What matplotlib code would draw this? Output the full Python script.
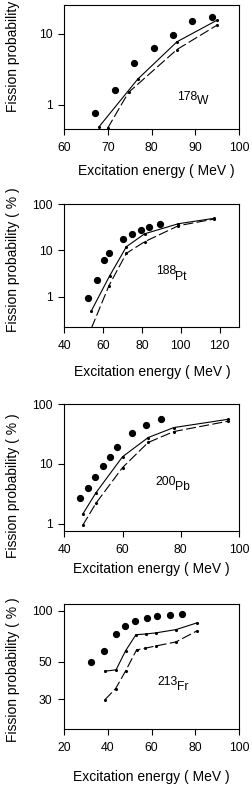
import matplotlib
matplotlib.use('Agg')
import matplotlib.pyplot as plt
import numpy as np

plt.rcParams['font.family'] = ['Liberation Sans', 'DejaVu Sans']

W, H = 253, 788

# 178W
w_dot_x = [67.1, 71.5, 76.0, 80.5, 84.9, 89.3, 93.8]
w_dot_y = [0.78, 1.61, 3.85, 6.4, 9.7, 14.9, 17.0]
w_sol_x = [67.9, 76.8, 85.8, 95.0]
w_sol_y = [0.49, 2.3, 7.7, 15.5]
w_das_x = [69.9, 74.7, 85.8, 95.0]
w_das_y = [0.47, 1.5, 6.0, 13.2]

# 188Pt
pt_dot_x = [52.3, 56.8, 60.5, 63.1, 70.4, 74.9, 79.3, 83.8, 89.1]
pt_dot_y = [0.95, 2.26, 6.1, 8.7, 17.9, 23.0, 28.0, 32.6, 37.0]
pt_sol_x = [54.0, 63.3, 72.0, 81.4, 98.8, 117.3]
pt_sol_y = [0.50, 2.8, 12.1, 23.0, 38.0, 49.8]
pt_das_x = [54.0, 63.0, 72.0, 81.4, 98.8, 117.3]
pt_das_y = [0.21, 1.73, 8.7, 15.5, 34.4, 48.0]

# 200Pb
pb_dot_x = [45.5, 48.0, 50.6, 53.2, 55.7, 58.2, 63.1, 68.0, 73.2]
pb_dot_y = [2.7, 3.9, 6.1, 9.3, 12.9, 18.9, 33.2, 45.7, 56.0]
pb_sol_x = [46.3, 50.9, 60.0, 68.8, 77.6, 96.2]
pb_sol_y = [1.43, 3.3, 13.2, 27.7, 40.7, 56.0]
pb_das_x = [46.3, 50.9, 60.0, 68.8, 77.6, 96.2]
pb_das_y = [0.93, 2.2, 8.7, 22.9, 34.9, 52.0]

# 213Fr
fr_dot_x = [32.2, 38.3, 43.8, 47.8, 52.4, 57.7, 62.4, 68.5, 73.9]
fr_dot_y = [50.0, 58.0, 73.1, 81.9, 87.3, 90.5, 93.0, 94.7, 95.6]
fr_sol_x = [38.6, 43.7, 48.1, 52.8, 57.2, 61.8, 71.1, 80.7]
fr_sol_y = [44.1, 44.9, 58.3, 72.4, 73.1, 74.2, 77.6, 85.0]
fr_das_x = [38.6, 43.5, 48.1, 53.1, 56.9, 61.8, 71.1, 80.7]
fr_das_y = [29.9, 34.8, 44.3, 58.9, 60.2, 62.1, 65.6, 76.2]

panels = [
    dict(top=4.7, bot=128.7, xlim=(60, 100), xt=[60, 70, 80, 90, 100],
         ylim=(0.465, 25.5), yt=[1, 10], ytl=['1', '10'],
         dots=(w_dot_x, w_dot_y), sol=(w_sol_x, w_sol_y), das=(w_das_x, w_das_y),
         num='178', el='W', num_px=(176.7, 100), el_px=(197, 104),
         ylab_px=40, xlab_px=(156, 171)),
    dict(top=204.3, bot=326.7, xlim=(40, 130), xt=[40, 60, 80, 100, 120],
         ylim=(0.224, 100), yt=[1, 10, 100], ytl=['1', '10', '100'],
         dots=(pt_dot_x, pt_dot_y), sol=(pt_sol_x, pt_sol_y), das=(pt_das_x, pt_das_y),
         num='188', el='Pt', num_px=(156, 274), el_px=(175.5, 280),
         ylab_px=260, xlab_px=(152.5, 372)),
    dict(top=404.3, bot=531, xlim=(40, 100), xt=[40, 60, 80, 100],
         ylim=(0.75, 100), yt=[1, 10, 100], ytl=['1', '10', '100'],
         dots=(pb_dot_x, pb_dot_y), sol=(pb_sol_x, pb_sol_y), das=(pb_das_x, pb_das_y),
         num='200', el='Pb', num_px=(155, 485), el_px=(175, 490),
         ylab_px=486, xlab_px=(151.5, 569)),
    dict(top=604.3, bot=729.3, xlim=(20, 100), xt=[20, 40, 60, 80, 100],
         ylim=(20, 109.5), yt=[30, 50, 100], ytl=['30', '50', '100'],
         dots=(fr_dot_x, fr_dot_y), sol=(fr_sol_x, fr_sol_y), das=(fr_das_x, fr_das_y),
         num='213', el='Fr', num_px=(157.7, 685), el_px=(177, 690),
         ylab_px=670, xlab_px=(151.5, 777)),
]

fig = plt.figure(figsize=(W / 100, H / 100), dpi=100)
left, right = 64.3, 239.0

for p in panels:
    h = p['bot'] - p['top']
    ax = fig.add_axes([left / W, 1 - p['bot'] / H, (right - left) / W, h / H])
    ax.set_yscale('log')
    ax.plot(*p['sol'], '-', color='black', lw=0.8, marker='.', ms=2.5)
    ax.plot(*p['das'], color='black', lw=0.8, ls=(0, (9, 3)), marker='.', ms=2.5)
    ax.plot(*p['dots'], 'o', color='black', ms=4.2, clip_on=False)
    ax.set_xlim(*p['xlim'])
    ax.set_ylim(*p['ylim'])
    ax.set_xticks(p['xt'])
    ax.set_yticks(p['yt'])
    ax.set_yticklabels(p['ytl'])
    ax.yaxis.set_minor_locator(matplotlib.ticker.NullLocator())
    ax.tick_params(labelsize=8.7, length=4.5, width=0.8, pad=4)
    ax.tick_params(axis='x', pad=5)
    for s in ax.spines.values():
        s.set_linewidth(0.8)
    ax.set_xlabel('Excitation energy ( MeV )', fontsize=10, va='center')
    ax.set_ylabel('Fission probability ( % )', fontsize=10, va='center')
    ax.xaxis.set_label_coords((p['xlab_px'][0] - left) / (right - left),
                              (p['bot'] - p['xlab_px'][1]) / h)
    ax.yaxis.set_label_coords((12.7 - left) / (right - left), (p['bot'] - p['ylab_px']) / h)
    nx = (p['num_px'][0] - left) / (right - left)
    ny = (p['bot'] - p['num_px'][1]) / h
    ex = (p['el_px'][0] - left) / (right - left)
    ey = (p['bot'] - p['el_px'][1]) / h
    ax.text(nx, ny, p['num'], transform=ax.transAxes, fontsize=8.7, va='baseline', ha='left')
    ax.text(ex, ey, p['el'], transform=ax.transAxes, fontsize=8.7, va='baseline', ha='left')

fig.savefig('out.png', dpi=100)
